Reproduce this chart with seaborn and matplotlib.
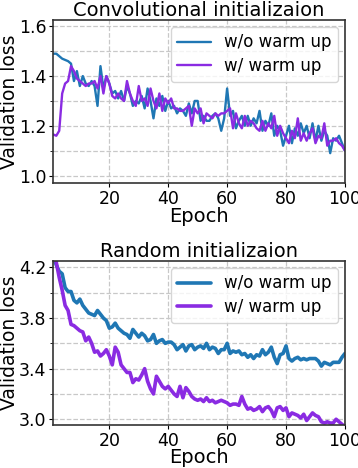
import numpy as np
import pandas as pd
import matplotlib
matplotlib.use('Agg')
import matplotlib.pyplot as plt
import seaborn as sns
from matplotlib.ticker import FixedLocator, FormatStrFormatter

# %%
epochs = list(range(1, 101))

conv_no_warm = [1.49, 1.49, 1.48, 1.47, 1.465, 1.46, 1.45, 1.38, 1.42, 1.36,
                1.40, 1.37, 1.36, 1.38, 1.36, 1.28, 1.44, 1.35, 1.40, 1.37,
                1.33, 1.34, 1.31, 1.34, 1.30, 1.36, 1.33, 1.28, 1.30, 1.29,
                1.32, 1.27, 1.35, 1.30, 1.23, 1.31, 1.28, 1.32, 1.26, 1.30,
                1.27, 1.28, 1.25, 1.27, 1.26, 1.24, 1.29, 1.25, 1.30, 1.30,
                1.22, 1.24, 1.22, 1.22, 1.24, 1.25, 1.23, 1.18, 1.23, 1.35,
                1.24, 1.26, 1.19, 1.22, 1.24, 1.20, 1.24, 1.20, 1.23, 1.21,
                1.26, 1.18, 1.22, 1.20, 1.25, 1.16, 1.20, 1.18, 1.12, 1.16,
                1.20, 1.13, 1.19, 1.16, 1.21, 1.17, 1.20, 1.15, 1.21, 1.14,
                1.20, 1.14, 1.18, 1.16, 1.09, 1.15, 1.14, 1.16, 1.13, 1.10]

conv_warm = [1.165, 1.16, 1.18, 1.33, 1.37, 1.38, 1.44, 1.42, 1.39, 1.38,
             1.37, 1.36, 1.37, 1.37, 1.38, 1.35, 1.40, 1.33, 1.40, 1.37,
             1.32, 1.31, 1.33, 1.31, 1.30, 1.38, 1.33, 1.30, 1.28, 1.36,
             1.30, 1.31, 1.28, 1.35, 1.30, 1.27, 1.33, 1.26, 1.31, 1.29,
             1.31, 1.27, 1.27, 1.26, 1.26, 1.27, 1.28, 1.20, 1.27, 1.25,
             1.27, 1.21, 1.25, 1.24, 1.23, 1.25, 1.24, 1.25, 1.25, 1.26,
             1.27, 1.19, 1.25, 1.21, 1.19, 1.24, 1.20, 1.22, 1.21, 1.19,
             1.18, 1.22, 1.18, 1.21, 1.19, 1.24, 1.16, 1.20, 1.17, 1.15,
             1.13, 1.18, 1.15, 1.23, 1.14, 1.17, 1.14, 1.17, 1.19, 1.13,
             1.16, 1.15, 1.21, 1.12, 1.14, 1.14, 1.15, 1.13, 1.12, 1.10]

rand_no_warm = [4.28, 4.22, 4.17, 4.15, 4.04, 4.01, 4.01, 3.94, 3.92, 3.95,
                3.90, 3.87, 3.84, 3.83, 3.82, 3.86, 3.83, 3.80, 3.78, 3.72,
                3.73, 3.76, 3.72, 3.70, 3.68, 3.67, 3.64, 3.71, 3.68, 3.65,
                3.68, 3.66, 3.62, 3.63, 3.67, 3.60, 3.62, 3.63, 3.60, 3.61,
                3.61, 3.59, 3.55, 3.57, 3.59, 3.54, 3.58, 3.59, 3.55, 3.57,
                3.58, 3.56, 3.60, 3.55, 3.57, 3.56, 3.52, 3.55, 3.55, 3.60,
                3.52, 3.54, 3.53, 3.54, 3.51, 3.52, 3.49, 3.51, 3.48, 3.51,
                3.50, 3.55, 3.51, 3.53, 3.57, 3.49, 3.44, 3.51, 3.52, 3.58,
                3.48, 3.46, 3.48, 3.49, 3.47, 3.48, 3.47, 3.48, 3.48, 3.48,
                3.46, 3.42, 3.45, 3.44, 3.43, 3.45, 3.45, 3.45, 3.49, 3.52]

rand_warm = [4.30, 4.24, 4.12, 4.02, 3.90, 3.86, 3.75, 3.74, 3.72, 3.70,
             3.69, 3.62, 3.65, 3.60, 3.53, 3.54, 3.50, 3.52, 3.55, 3.50,
             3.43, 3.57, 3.53, 3.43, 3.40, 3.37, 3.37, 3.29, 3.32, 3.31,
             3.35, 3.40, 3.30, 3.24, 3.20, 3.34, 3.30, 3.26, 3.24, 3.26,
             3.23, 3.20, 3.18, 3.26, 3.17, 3.25, 3.22, 3.18, 3.16, 3.15,
             3.16, 3.14, 3.17, 3.14, 3.15, 3.13, 3.14, 3.15, 3.14, 3.13,
             3.11, 3.12, 3.12, 3.11, 3.18, 3.12, 3.08, 3.09, 3.07, 3.08,
             3.10, 3.06, 3.09, 3.10, 3.07, 3.02, 3.09, 3.10, 3.07, 3.09,
             3.02, 3.05, 3.04, 3.03, 3.01, 3.04, 2.99, 3.02, 3.05, 3.03,
             3.02, 2.98, 2.97, 2.98, 2.97, 2.97, 3.00, 2.98, 2.96, 2.94]

xticks = [20, 40, 60, 80, 100]
conv_major = [1.0, 1.2, 1.4, 1.6]
conv_minor = [1.1, 1.3, 1.5]
rand_major = [3.0, 3.4, 3.8, 4.2]
rand_minor = [3.2, 3.6, 4.0]

# %%
sns.set_style('ticks')
plt.rcParams['font.family'] = ['DejaVu Sans']
plt.rcParams['text.color'] = 'black'
plt.rcParams['axes.labelcolor'] = 'black'
plt.rcParams['xtick.color'] = 'black'
plt.rcParams['ytick.color'] = 'black'

fig = plt.figure(figsize=(3.58, 4.68), dpi=100)
ax1 = fig.add_axes([0.149, 0.609, 0.8145, 0.348])
ax2 = fig.add_axes([0.149, 0.092, 0.8145, 0.350])

blue = '#1f77b4'
purple = '#8a2be2'


def draw(ax, no_warm, warm, title, lw, ylim, major, minor):
    sns.lineplot(x=epochs, y=no_warm, ax=ax, color=blue, linewidth=lw, label='w/o warm up')
    sns.lineplot(x=epochs, y=warm, ax=ax, color=purple, linewidth=lw, label='w/ warm up')
    ax.set_xlim(1, 100)
    ax.set_ylim(*ylim)
    ax.set_xticks(xticks)
    ax.yaxis.set_major_locator(FixedLocator(major))
    ax.yaxis.set_minor_locator(FixedLocator(minor))
    ax.yaxis.set_major_formatter(FormatStrFormatter('%.1f'))
    ax.grid(True, which='both', axis='y', linestyle='--', color='#c8c8c8', linewidth=0.9)
    ax.grid(True, which='major', axis='x', linestyle='--', color='#c8c8c8', linewidth=0.9)
    ax.set_title(title, fontsize=14, pad=2)
    ax.set_xlabel('Epoch', fontsize=14, labelpad=-1)
    ax.set_ylabel('Validation loss', fontsize=13.5, labelpad=0)
    ax.yaxis.set_label_coords(-0.118, 0.5)
    ax.tick_params(labelsize=12.5, length=3, pad=2)
    ax.tick_params(which='minor', length=2)
    for s in ax.spines.values():
        s.set_color('#333333')
        s.set_linewidth(1.2)
    ax.legend(loc='upper right', fontsize=12, framealpha=0.8, handlelength=2,
              borderaxespad=0.4, labelspacing=0.35)


draw(ax1, conv_no_warm, conv_warm, 'Convolutional initializaion', 1.7,
     (0.97, 1.625), conv_major, conv_minor)
draw(ax2, rand_no_warm, rand_warm, 'Random initializaion', 2.6,
     (2.955, 4.25), rand_major, rand_minor)

fig.savefig('out.png', dpi=100)
